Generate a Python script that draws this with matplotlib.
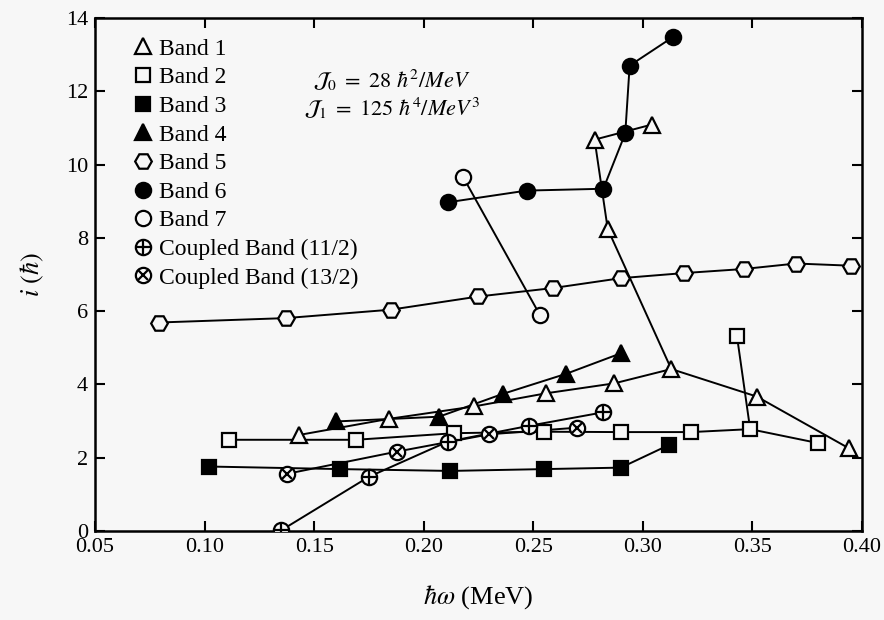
import matplotlib
matplotlib.use("Agg")
import matplotlib.pyplot as plt
from matplotlib.lines import Line2D

plt.rcParams["font.family"] = ["Liberation Serif", "DejaVu Serif"]
plt.rcParams["mathtext.fontset"] = "stix"

bg = "#f7f7f7"

# alineaciones (hbar*omega en MeV, i en hbar)
band1_x = [0.143, 0.184, 0.223, 0.256, 0.287, 0.313, 0.352, 0.394, 0.284, 0.278, 0.304]
band1_y = [2.62, 3.06, 3.40, 3.76, 4.03, 4.42, 3.67, 2.26, 8.24, 10.68, 11.09]
band1_paths = [[0, 1, 2, 3, 4, 5, 6, 7], [5, 8, 9, 10]]

band2_x = [0.111, 0.169, 0.214, 0.255, 0.290, 0.322, 0.349, 0.380, 0.343]
band2_y = [2.49, 2.49, 2.67, 2.71, 2.70, 2.70, 2.78, 2.40, 5.31]
band2_paths = [[0, 1, 2, 3, 4, 5, 6, 7], [6, 8]]

band3_x = [0.102, 0.162, 0.212, 0.255, 0.290, 0.312]
band3_y = [1.76, 1.69, 1.64, 1.69, 1.73, 2.35]

band4_x = [0.160, 0.207, 0.236, 0.265, 0.290]
band4_y = [2.99, 3.12, 3.74, 4.29, 4.85]

band5_x = [0.079, 0.137, 0.185, 0.225, 0.259, 0.290, 0.319, 0.346, 0.370, 0.395]
band5_y = [5.69, 5.81, 6.04, 6.40, 6.63, 6.90, 7.04, 7.15, 7.30, 7.24]

band6_x = [0.211, 0.247, 0.282, 0.292, 0.294, 0.314]
band6_y = [8.97, 9.29, 9.34, 10.85, 12.70, 13.49]

band7_x = [0.218, 0.253]
band7_y = [9.66, 5.90]

c11_x = [0.135, 0.175, 0.211, 0.248, 0.282]
c11_y = [0.02, 1.48, 2.44, 2.87, 3.24]

c13_x = [0.1375, 0.188, 0.230, 0.270]
c13_y = [1.56, 2.17, 2.64, 2.82]

xticks = [0.05, 0.10, 0.15, 0.20, 0.25, 0.30, 0.35, 0.40]
yticks = [0, 2, 4, 6, 8, 10, 12, 14]

ms = 11
mew = 1.6
lw = 1.4

fig = plt.figure(figsize=(8.84, 6.20), dpi=100, facecolor=bg)
ax = fig.add_axes([0.1075, 0.1435, 0.8675, 0.8275], facecolor=bg)


def draw(xs, ys, marker, filled, paths=None, size=ms):
    if paths is None:
        paths = [list(range(len(xs)))]
    for p in paths:
        ax.plot([xs[i] for i in p], [ys[i] for i in p], "-", color="k", lw=lw, zorder=2)
    ax.plot(xs, ys, linestyle="none", marker=marker, ms=size, mew=mew, mec="k",
            mfc="k" if filled else bg, zorder=3)


draw(band5_x, band5_y, "H", False, size=12)
draw(band7_x, band7_y, "o", False)
draw(band2_x, band2_y, "s", False, band2_paths, size=10)
draw(band3_x, band3_y, "s", True, size=10)
draw(band4_x, band4_y, "^", True, size=12)
draw(band1_x, band1_y, "^", False, band1_paths, size=12)
draw(c11_x, c11_y, "o", False)
ax.plot(c11_x, c11_y, linestyle="none", marker="+", ms=ms, mew=mew, color="k", zorder=4)
draw(c13_x, c13_y, "o", False)
ax.plot(c13_x, c13_y, linestyle="none", marker="x", ms=ms / 1.414, mew=mew, color="k", zorder=4)
draw(band6_x, band6_y, "o", True)

# leyenda solo con marcadores
def mk(marker, filled, size=ms):
    return Line2D([], [], linestyle="none", marker=marker, ms=size, mew=mew, mec="k",
                  mfc="k" if filled else bg)

handles = [
    mk("^", False, 12), mk("s", False, 10), mk("s", True, 10), mk("^", True, 12),
    mk("H", False, 12), mk("o", True), mk("o", False),
    (mk("o", False), Line2D([], [], linestyle="none", marker="+", ms=ms, mew=mew, color="k")),
    (mk("o", False), Line2D([], [], linestyle="none", marker="x", ms=ms / 1.414, mew=mew, color="k")),
]
labels = ["Band 1", "Band 2", "Band 3", "Band 4", "Band 5", "Band 6", "Band 7",
          "Coupled Band (11/2)", "Coupled Band (13/2)"]
ax.legend(handles, labels, loc="upper left", bbox_to_anchor=(0.037, 0.979), frameon=False,
          fontsize=17, handlelength=0.9, handletextpad=0.2, labelspacing=0.3,
          borderaxespad=0.0)

ax.text(0.1855, 12.3, r"$\mathcal{J}_{\mathit{0}}\ =\ \mathit{28}\ \hbar^{\mathit{2}}/\mathit{MeV}$",
        ha="center", va="center", fontsize=16)
ax.text(0.1855, 11.55, r"$\mathcal{J}_{\mathit{1}}\ =\ \mathit{125}\ \hbar^{\mathit{4}}/\mathit{MeV}^{\mathit{3}}$",
        ha="center", va="center", fontsize=16)

ax.set_xlim(0.05, 0.40)
ax.set_ylim(0, 14)
ax.set_xticks(xticks)
ax.set_xticklabels(["%.2f" % t for t in xticks])
ax.set_yticks(yticks)
ax.tick_params(direction="in", length=7, width=1.5, top=True, right=True,
               labelsize=16, pad=5)
for s in ax.spines.values():
    s.set_linewidth(1.8)

ax.set_xlabel(r"$\hbar\omega$ (MeV)", fontsize=19, labelpad=19)
ax.set_ylabel(r"$i\ (\hbar)$", fontsize=19, labelpad=14)

fig.savefig("out.png", dpi=100, facecolor=bg)
